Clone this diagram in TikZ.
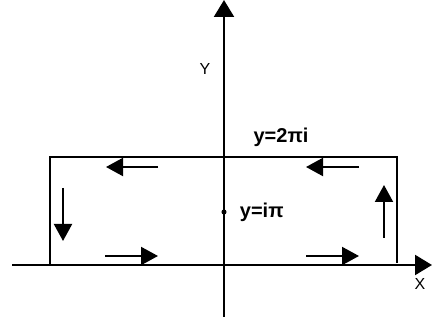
\documentclass[tikz,border=0pt]{standalone}
\usepackage{fontspec}
\setmainfont{Liberation Sans}
\usetikzlibrary{positioning,arrows.meta}
\tikzset{
  axis/.style={-{Triangle[length=17pt,width=20pt]},line width=2.2pt},
  box/.style={line width=2.2pt},
  flowarr/.style={-{Triangle[length=17pt,width=18pt]},line width=2pt},
  axlbl/.style={font=\fontsize{16}{18}\selectfont,inner sep=0pt},
  ptlbl/.style={font=\fontsize{20}{22}\selectfont\bfseries,inner sep=0pt},
  ptdot/.style={circle,fill=black,inner sep=1.8pt},
}
\begin{document}
\begin{tikzpicture}[x=1pt,y=-1pt]
  \useasboundingbox (0,0) rectangle (432,323);
  % axes
  \coordinate (xl) at (12,265);
  \coordinate (xr) at (432,265);
  \coordinate (yb) at (224,317);
  \coordinate (yt) at (224,0);
  \draw[axis] (xl) -- (xr);
  \draw[axis] (yb) -- (yt);
  \node[axlbl] (ylab) at (205,69) {Y};
  \node[axlbl] (xlab) at (420,284) {X};
  % contour
  \coordinate (bl) at (50,265);
  \coordinate (tl) at (50,157);
  \coordinate (tr) at (397,157);
  \coordinate (br) at (397,263);
  \draw[box] (bl) -- (tl) -- (tr) -- (br);
  % direction arrows
  \coordinate (as) at (158,167); \coordinate (ae) at (106,167);
  \coordinate (bs) at (359,167); \coordinate (be) at (306,167);
  \coordinate (cs) at (63,188);  \coordinate (ce) at (63,241);
  \coordinate (ds) at (384,238); \coordinate (de) at (384,185);
  \coordinate (es) at (105,256); \coordinate (ee) at (158,256);
  \coordinate (fs) at (306,256); \coordinate (fe) at (359,256);
  \foreach \p in {a,b,c,d,e,f} { \draw[flowarr] (\p s) -- (\p e); }
  % labels
  \node[ptlbl] (top) at (281,137) {y=2πi};
  \node[ptdot] (mid) at (224,212) {};
  \node[ptlbl,right=13pt of mid] (midlab) {y=iπ};
\end{tikzpicture}
\end{document}
